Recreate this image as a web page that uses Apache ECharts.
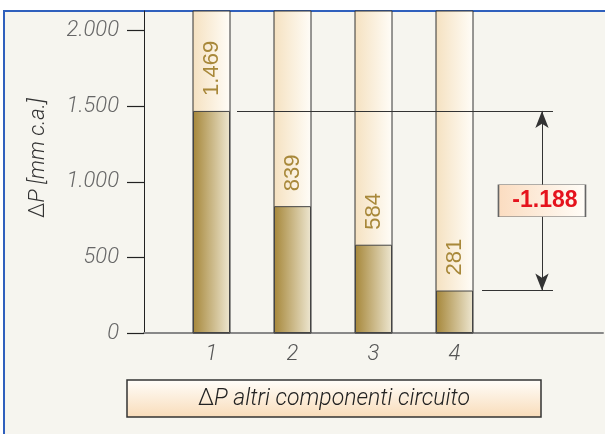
<!DOCTYPE html>
<html><head><meta charset="utf-8">
<script src="https://cdn.jsdelivr.net/npm/echarts@6/dist/echarts.min.js"></script>
<style>html,body{margin:0;padding:0;background:#fff}#c{width:605px;height:434px}</style>
</head><body><div id="c"></div>
<script>
// ---- data ----
const categories = [1, 2, 3, 4];
const values = [1469, 839, 584, 281];
const yTicks = [0, 500, 1000, 1500, 2000];
const yMax = 2130;
const yNameParts = ['Δ', 'P [mm c.a.]'];
const xNameParts = ['Δ', 'P altri componenti circuito'];

function itFmt(v) { return String(Math.round(v)).replace(/\B(?=(\d{3})+(?!\d))/g, '.'); }
const delta = values[3] - values[0];

const FONT = 'Roboto';
const LG = echarts.graphic.LinearGradient;

const chart = echarts.init(document.getElementById('c'), null, { renderer: 'canvas' });
chart.setOption({
  animation: false,
  backgroundColor: '#ffffff',
  graphic: [
    { type: 'rect', z: -10, silent: true, shape: { x: 4, y: 11, width: 700, height: 500 },
      style: { fill: '#f6f5ef', stroke: '#2f60bd', lineWidth: 2 } },
    { type: 'rect', z: 1, shape: { x: 127, y: 380, width: 414, height: 37 },
      style: { fill: new LG(0, 0, 0, 1, [{ offset: 0, color: '#fffefb' }, { offset: 1, color: '#f9dcb9' }]),
               stroke: '#333', lineWidth: 1.5 } },
    { type: 'text', z: 2, x: 334, y: 399,
      style: { text: '{a|' + xNameParts[0] + '}{b|' + xNameParts[1] + '}', align: 'center', verticalAlign: 'middle',
               rich: { a: { fontSize: 23, fontFamily: FONT, fontWeight: 300, fill: '#222', color: '#222' },
                       b: { fontSize: 23, fontFamily: FONT, fontWeight: 300, fontStyle: 'italic', fill: '#222', color: '#222' } } } },
    { type: 'text', z: 2, x: 38, y: 158, rotation: Math.PI / 2,
      style: { text: '{a|' + yNameParts[0] + '}{b|' + yNameParts[1] + '}', align: 'center', verticalAlign: 'middle',
               rich: { a: { fontSize: 22, fontFamily: FONT, fontWeight: 300, fill: '#333', color: '#333' },
                       b: { fontSize: 22, fontFamily: FONT, fontWeight: 300, fontStyle: 'italic', fill: '#333', color: '#333' } } } }
  ],
  grid: { left: 144, right: 2, top: 11, bottom: 101 },
  xAxis: {
    type: 'value', min: 1 / 6, max: 35 / 6,
    axisLine: { show: true, lineStyle: { color: '#888', width: 2 } },
    axisTick: { show: false },
    splitLine: { show: false },
    axisLabel: {
      customValues: categories, margin: 10, color: '#555', fontSize: 22, fontStyle: 'italic',
      fontFamily: FONT, fontWeight: 300,
      formatter: v => (Math.abs(v - Math.round(v)) < 1e-6 && categories.includes(Math.round(v))) ? String(Math.round(v)) : ''
    }
  },
  yAxis: {
    type: 'value', min: 0, max: yMax, interval: 500,
    axisLine: { show: true, lineStyle: { color: '#222', width: 1 } },
    axisTick: { show: true, length: 17, customValues: yTicks, lineStyle: { color: '#222', width: 1.2 } },
    splitLine: { show: false },
    axisLabel: {
      customValues: yTicks, margin: 25, color: '#666', fontSize: 22, fontStyle: 'italic',
      fontFamily: FONT, fontWeight: 300,
      formatter: v => (v % 500 === 0 ? itFmt(v) : '')
    }
  },
  series: [{
    type: 'bar',
    barWidth: 37,
    data: categories.map((c, i) => [c, values[i]]),
    showBackground: true,
    backgroundStyle: {
      color: new LG(0, 0, 1, 0, [{ offset: 0, color: '#f5e1c0' }, { offset: 1, color: '#fffdf8' }]),
      borderColor: '#333', borderWidth: 1
    },
    itemStyle: {
      color: new LG(0, 0, 1, 0, [{ offset: 0, color: '#a6873a' }, { offset: 1, color: '#ede6d0' }]),
      borderColor: '#444', borderWidth: 1
    },
    label: {
      show: true, position: 'top', distance: 15, rotate: 90, align: 'left', verticalAlign: 'middle',
      color: '#a8883a', fontSize: 22, fontFamily: 'Liberation Sans',
      formatter: p => itFmt(p.value[1])
    },
    markLine: {
      z: 5, silent: true, symbol: 'none', animation: false,
      lineStyle: { color: '#333', width: 1, type: 'solid' },
      label: { show: false },
      data: [
        [{ coord: [1.315, values[0]] }, { coord: [5.216, values[0]] }],
        [{ coord: [4.34, values[3]] }, { coord: [5.216, values[3]] }],
        [{ coord: [5.08, values[0]], symbol: 'arrow', symbolSize: [10, 17] },
         { coord: [5.08, values[3]], symbol: 'arrow', symbolSize: [10, 17] }]
      ]
    },
    markPoint: {
      z: 6, silent: true, animation: false,
      symbol: 'rect', symbolSize: [87, 32],
      itemStyle: {
        color: new LG(0, 0, 1, 0, [{ offset: 0, color: '#fbdcc0' }, { offset: 1, color: '#fffdf8' }]),
        borderColor: '#666', borderWidth: 1
      },
      label: { show: true, color: '#e5131d', fontSize: 23, fontWeight: 'bold', fontFamily: 'Liberation Sans', offset: [3, 0],
               formatter: () => itFmt(delta) },
      data: [{ coord: [5.08, (values[0] + values[3]) / 2], value: delta }]
    }
  }]
});
</script>
</body></html>
